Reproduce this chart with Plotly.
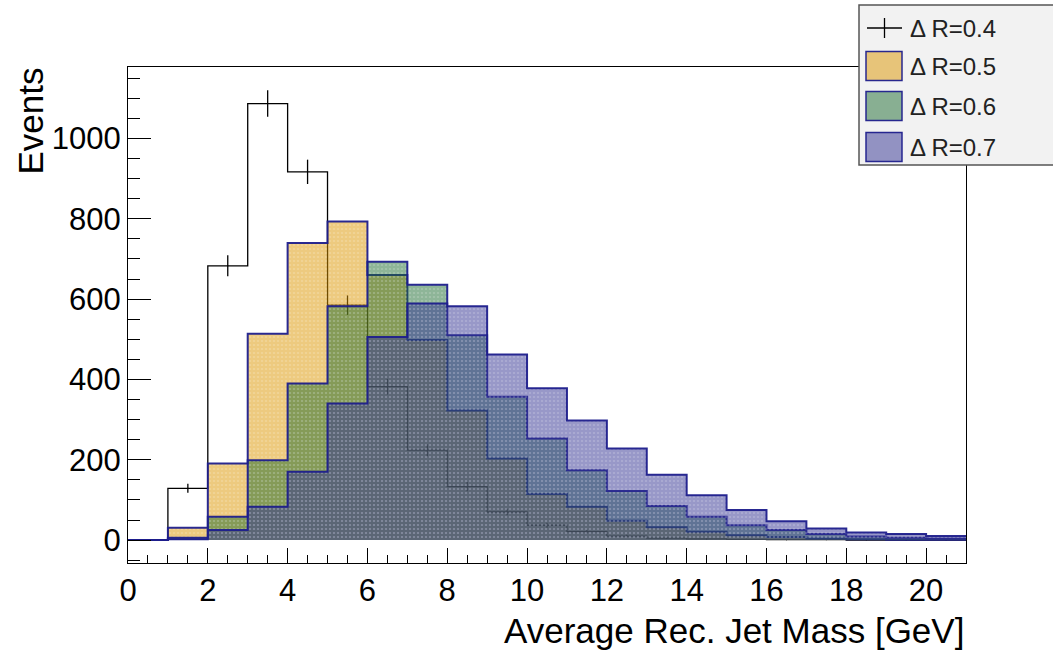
import math
import plotly.graph_objects as go

# ---------------- data ----------------
bin_edges = list(range(0, 22))          # 21 bins of 1 GeV, 0..21
dr04 = [0, 129, 683, 1087, 917, 585, 382, 224, 133, 70, 37, 21, 10, 5, 3, 2, 1, 1, 0, 0, 0]
dr05 = [0, 31, 191, 514, 740, 793, 660, 498, 323, 203, 115, 83, 48, 32, 21, 12, 8, 4, 2, 1, 1]
dr06 = [0, 6, 58, 199, 390, 582, 693, 636, 510, 357, 253, 174, 122, 85, 58, 37, 25, 15, 9, 6, 4]
dr07 = [0, 2, 25, 83, 170, 340, 506, 589, 582, 462, 378, 298, 228, 163, 112, 75, 47, 29, 19, 15, 10]
series_names = ["\u0394 R=0.4", "\u0394 R=0.5", "\u0394 R=0.6", "\u0394 R=0.7"]
x_ticks = list(range(0, 21, 2))
y_ticks = [0, 200, 400, 600, 800, 1000]
x_title = "Average Rec. Jet Mass [GeV]"
y_title = "Events"

# ---------------- style ----------------
W, H = 1053, 661
L, R, T, B = 128, 966, 67, 563
FONT = "Liberation Sans Narrow, Arial Narrow, Liberation Sans, Arial, sans-serif"
LFONT = "Liberation Sans, Arial, sans-serif"
fill_cols = ["rgba(220,150,0,0.5)", "rgba(30,108,50,0.5)", "rgba(50,50,145,0.5)"]
edge_col = "rgba(30,30,140,0.95)"


def px_x(p):
    return (p - L) / (R - L)


def px_y(p):
    return (B - p) / (B - T)


def step_y(vals):
    return list(vals) + [vals[-1]]


fig = go.Figure()

# black outline histogram (dR=0.4)
fig.add_trace(go.Scatter(x=bin_edges, y=step_y(dr04), mode="lines", line_shape="hv",
                         line=dict(color="black", width=1.3), showlegend=False,
                         hoverinfo="skip"))
centers = [e + 0.5 for e in bin_edges[:-1]]
fig.add_trace(go.Scatter(x=centers, y=dr04, mode="markers",
                         marker=dict(size=1, color="black"),
                         error_y=dict(type="data", array=[math.sqrt(v) for v in dr04],
                                      thickness=1.3, width=0, color="black"),
                         showlegend=False, hoverinfo="skip"))

for vals, col in zip([dr05, dr06, dr07], fill_cols):
    fig.add_trace(go.Scatter(x=bin_edges, y=step_y(vals), mode="lines", line_shape="hv",
                             fill="tozeroy", fillcolor=col,
                             fillpattern=dict(shape=".", bgcolor=col,
                                              fgcolor="rgba(255,255,255,0.4)",
                                              size=4, solidity=0.22, fillmode="overlay"),
                             line=dict(color=edge_col, width=2),
                             showlegend=False, hoverinfo="skip"))

axis_common = dict(showline=True, linecolor="black", linewidth=1, mirror=True,
                   showgrid=False, zeroline=False, ticks="inside", tickcolor="black",
                   tickwidth=1, tickfont=dict(family=FONT, size=31, color="black"))

fig.update_xaxes(range=[0, 21], tickvals=x_ticks, ticklen=15,
                 minor=dict(dtick=0.5, tick0=0, ticks="inside", ticklen=8,
                            tickcolor="black", showgrid=False), **axis_common)
fig.update_yaxes(range=[-57, 1178], tickvals=y_ticks, ticklen=23,
                 minor=dict(dtick=50, tick0=0, ticks="inside", ticklen=12,
                            tickcolor="black", showgrid=False), **axis_common)

shapes = []
annotations = []

# axis titles
annotations.append(dict(xref="x", yref="paper", x=21, y=px_y(630), xanchor="right",
                        yanchor="middle", text=x_title, showarrow=False,
                        font=dict(family=FONT, size=35, color="black")))
annotations.append(dict(xref="paper", yref="paper", x=px_x(30), y=px_y(66), xanchor="center",
                        yanchor="top", text=y_title, textangle=-90, showarrow=False,
                        font=dict(family=FONT, size=35, color="black")))

# legend box
shapes.append(dict(type="rect", xref="paper", yref="paper", layer="above",
                   x0=px_x(859), x1=px_x(1060), y0=px_y(165), y1=px_y(5),
                   fillcolor="#f2f2f2", line=dict(color="#555555", width=1.5)))
entry_y = [28, 66, 106, 147]
# cross symbol for dR=0.4
shapes.append(dict(type="line", xref="paper", yref="paper", layer="above",
                   x0=px_x(867), x1=px_x(902), y0=px_y(entry_y[0]), y1=px_y(entry_y[0]),
                   line=dict(color="black", width=1.3)))
shapes.append(dict(type="line", xref="paper", yref="paper", layer="above",
                   x0=px_x(884.5), x1=px_x(884.5), y0=px_y(entry_y[0] - 10), y1=px_y(entry_y[0] + 10),
                   line=dict(color="black", width=1.3)))
for yc, col in zip(entry_y[1:], fill_cols):
    shapes.append(dict(type="rect", xref="paper", yref="paper", layer="above",
                       x0=px_x(866), x1=px_x(902), y0=px_y(yc + 14.5), y1=px_y(yc - 14.5),
                       fillcolor=col, line=dict(color=edge_col, width=1.5)))
for yc, name in zip(entry_y, series_names):
    annotations.append(dict(xref="paper", yref="paper", x=px_x(908), y=px_y(yc),
                            xanchor="left", yanchor="middle", text=name, showarrow=False,
                            font=dict(family=LFONT, size=24, color="#222222")))

fig.update_layout(width=W, height=H, margin=dict(l=L, r=W - R, t=T, b=H - B),
                  paper_bgcolor="white", plot_bgcolor="white",
                  shapes=shapes, annotations=annotations, showlegend=False)

fig.write_html("out.html")
